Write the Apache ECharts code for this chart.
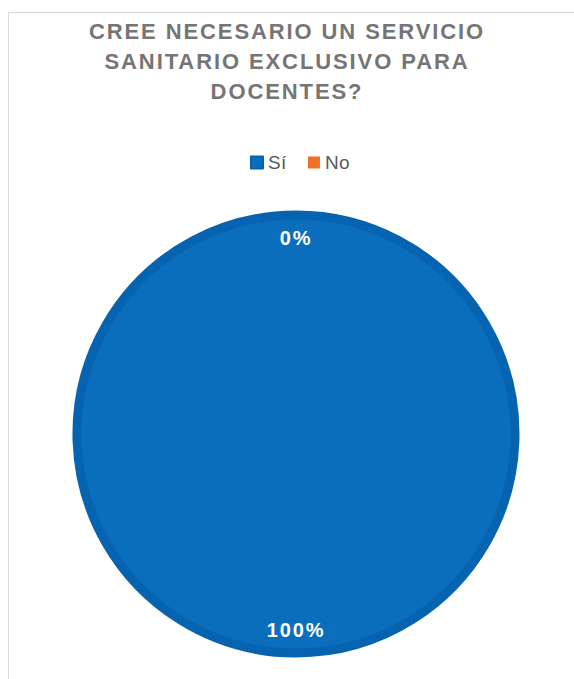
<!DOCTYPE html>
<html>
<head>
<meta charset="utf-8">
<script src="https://cdn.jsdelivr.net/npm/echarts@6/dist/echarts.min.js"></script>
<style>
  html, body { margin: 0; padding: 0; background: #fff; }
  #wrap { position: relative; width: 574px; height: 679px; overflow: hidden; }
  #chart { width: 574px; height: 679px; }
  #frame { position: absolute; left: 8px; top: 12px; width: 600px; height: 700px;
           border: 1px solid #d9d9d9; pointer-events: none; box-sizing: border-box; }
  #chart svg text { letter-spacing: 1.9px; }
  #chart svg text[style*="19px"] { letter-spacing: 0.3px; }
</style>
</head>
<body>
<div id="wrap">
  <div id="chart"></div>
  <div id="frame"></div>
</div>
<script>
const titleText = 'CREE NECESARIO UN SERVICIO\nSANITARIO EXCLUSIVO PARA\nDOCENTES?';
const categories = ['Sí', 'No'];
const values = [100, 0];
const colors = ['#0A6EBD', '#F07025'];

const chart = echarts.init(document.getElementById('chart'), null, { renderer: 'svg' });
const font = '"Liberation Sans", Arial, sans-serif';
const R = 219;
const center = [296, 434];

const mainData = categories.map((c, i) => ({
  name: c, value: values[i],
  itemStyle: { color: colors[i], borderColor: i === 0 ? '#0563B0' : colors[i], borderWidth: i === 0 ? 9 : 0 }
}));
const labelData = categories.map((c, i) => ({ name: c, value: values[i] }));

chart.setOption({
  animation: false,
  title: {
    text: titleText, left: 'center', top: 16, padding: [0, 10, 0, 0],
    textStyle: { fontFamily: font, fontSize: 22, fontWeight: 'bold', color: '#757575', lineHeight: 30 }
  },
  legend: {
    data: categories.map((c, i) => ({ name: c, itemStyle: { color: colors[i] } })),
    top: 153, left: 250, padding: 0, icon: 'rect', itemWidth: 12, itemHeight: 12, itemGap: 22,
    textStyle: { fontFamily: font, fontSize: 19, color: '#595959' }
  },
  series: [
    {
      type: 'pie', center: center, radius: [0, R], startAngle: 90, clockwise: true,
      silent: true, label: { show: false }, labelLine: { show: false },
      data: mainData
    },
    {
      type: 'pie', center: center, radius: [R * 0.77, R * 0.99], startAngle: 90, clockwise: true,
      silent: true, itemStyle: { color: 'rgba(0,0,0,0)', borderWidth: 0 },
      label: {
        show: true, position: 'inside', color: '#ffffff', fontFamily: font,
        fontSize: 20, fontWeight: 'bold',
        formatter: p => Math.round(p.percent) + '%'
      },
      labelLine: { show: false },
      data: labelData
    }
  ]
});
</script>
</body>
</html>
